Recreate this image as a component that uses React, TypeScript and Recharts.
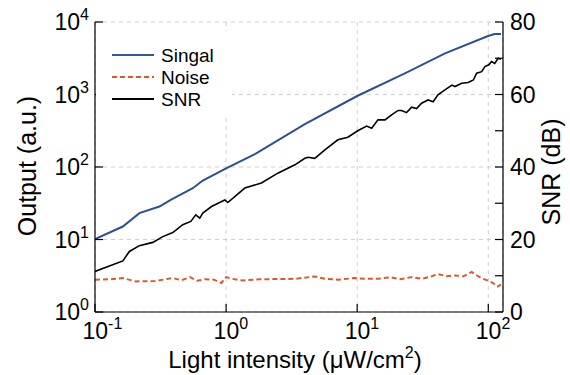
import React from 'react'
import { LineChart, Line, XAxis, YAxis, CartesianGrid } from 'recharts'

const FONT = '"Liberation Sans", Arial, Helvetica, sans-serif'

// light intensity (uW/cm2) and output (a.u.)
const signalX = [0.1, 0.163, 0.218, 0.31, 0.378, 0.557, 0.664, 1.0, 1.66, 3.99, 10, 23.1, 46.8, 99.5, 112, 125]
const signalY = [10.1, 15.1, 23.1, 28.5, 35.2, 51, 65, 96, 151, 389, 953, 1960, 3690, 6400, 6810, 6810]

const noiseX = [0.1, 0.13, 0.163, 0.204, 0.285, 0.392, 0.458, 0.53, 0.6, 0.69, 0.81, 0.92, 1.0, 1.11, 1.34, 1.8, 2.56, 3.35, 4.75, 5.67, 7.12, 9.6, 11.5, 14.4, 17.9, 21.1, 26.1, 31.2, 36, 41.3, 48.4, 55.8, 64.5, 74.7, 82.6, 88.5, 99.5, 108, 117.6, 125]
const noiseY = [2.79, 2.83, 2.94, 2.64, 2.67, 2.94, 2.74, 3.03, 2.7, 2.83, 2.79, 2.51, 3.03, 2.87, 2.72, 2.83, 2.85, 2.87, 3.09, 2.87, 2.79, 2.94, 2.87, 2.87, 3.01, 2.83, 3.03, 2.87, 3.06, 3.34, 3.11, 3.19, 3.11, 3.56, 3.16, 2.94, 2.7, 2.53, 2.25, 2.38]

// SNR (dB), right axis
const snrX = [0.1, 0.163, 0.183, 0.218, 0.276, 0.329, 0.392, 0.467, 0.538, 0.587, 0.63, 0.664, 0.774, 0.977, 1.03, 1.39, 1.86, 2.48, 3.35, 3.99, 4.21, 4.75, 5.67, 7.12, 8.49, 10.1, 11.8, 12.9, 14.4, 16.3, 18.3, 20.5, 21.8, 23.8, 26.0, 28.4, 31.0, 34.7, 38.0, 41.3, 46.7, 52.8, 55.7, 62.7, 70.3, 77, 81.5, 89, 94.3, 101, 106, 112, 119, 125]
const snrY = [11.2, 14.1, 16.7, 18.3, 19.2, 20.8, 21.9, 24.1, 25.0, 26.8, 25.9, 27.3, 29.1, 30.9, 30.2, 34.2, 35.6, 38.3, 40.6, 42.4, 42.7, 42.4, 44.7, 47.5, 48.2, 50.0, 51.3, 50.7, 53.0, 53.0, 54.4, 55.6, 55.6, 55.0, 56.5, 56.1, 57.6, 58.5, 58.0, 59.9, 61.3, 62.6, 62.2, 63.1, 63.3, 64.0, 65.9, 66.3, 67.7, 68.2, 69.1, 68.6, 70.0, 69.7]

const xTicks = [0.1, 1, 10, 100]
const outputTicks = [1, 10, 100, 1000, 10000]
const snrTicks = [0, 10, 20, 30, 40, 50, 60, 70, 80]

const signalData = signalX.map((x, i) => ({ x, y: signalY[i] }))
const noiseData = noiseX.map((x, i) => ({ x, y: noiseY[i] }))
const snrData = snrX.map((x, i) => ({ x, y: snrY[i] }))

const exp = (v: number) => String(Math.round(Math.log10(v)))

function BottomTick({ x, y, payload }: any) {
  return (
    <g>
      <line x1={x} x2={x} y1={y} y2={y - 8} stroke="#000" strokeWidth={1.2} />
      <text x={x - 12.5} y={y + 27} fontSize={23} fontFamily={FONT} fill="#000">
        10<tspan dy={-10} fontSize={16}>{exp(payload.value)}</tspan>
      </text>
    </g>
  )
}

function TopTick({ x, y }: any) {
  return <line x1={x} x2={x} y1={y} y2={y + 8} stroke="#000" strokeWidth={1.2} />
}

function LeftTick({ x, y, payload }: any) {
  return (
    <g>
      <line x1={x} x2={x + 8} y1={y} y2={y} stroke="#000" strokeWidth={1.2} />
      <text x={x - 6} y={y + 8} textAnchor="end" fontSize={23} fontFamily={FONT} fill="#000">
        10<tspan dy={-10} fontSize={16}>{exp(payload.value)}</tspan>
      </text>
    </g>
  )
}

function RightTick({ x, y, payload }: any) {
  return (
    <g>
      <line x1={x} x2={x - 8} y1={y} y2={y} stroke="#000" strokeWidth={1.2} />
      {payload.value % 20 === 0 && (
        <text x={x + 7} y={y + 8} fontSize={23} fontFamily={FONT} fill="#000">
          {payload.value}
        </text>
      )}
    </g>
  )
}

function LegendBox() {
  const rows = [
    { label: 'Singal', color: '#34589a', dash: undefined },
    { label: 'Noise', color: '#d95a2b', dash: '5 3' },
    { label: 'SNR', color: '#000', dash: undefined },
  ]
  return (
    <svg width={136} height={86} style={{ position: 'absolute', left: 96, top: 31, background: '#fff' }}>
      {rows.map((r, i) => (
        <g key={r.label}>
          <line x1={16} x2={58} y1={24 + i * 22} y2={24 + i * 22} stroke={r.color} strokeWidth={2} strokeDasharray={r.dash} />
          <text x={65} y={30.5 + i * 22} fontSize={19} fontFamily={FONT} fill="#000">{r.label}</text>
        </g>
      ))}
    </svg>
  )
}

export default function App() {
  return (
    <div style={{ position: 'absolute', left: 0, top: 0, width: 570, height: 375, background: '#fff' }}>
      <LineChart width={570} height={375} margin={{ top: 22, right: 0, bottom: 0, left: 0 }}>
        <CartesianGrid yAxisId="left" stroke="#cfcfcf" strokeDasharray="4 4" />
        <XAxis
          dataKey="x" type="number" scale="log" domain={[0.1, 129.5]} allowDataOverflow
          ticks={xTicks} interval={0} height={63} tickSize={0} tickMargin={0} tickLine={false}
          axisLine={{ stroke: '#000', strokeWidth: 1.2 }} tick={<BottomTick />}
          label={{
            content: () => (
              <text x={295} y={368} textAnchor="middle" fontSize={24} fontFamily={FONT} fill="#000">
                Light intensity (μW/cm<tspan dy={-10} fontSize={16}>2</tspan><tspan dy={10}>)</tspan>
              </text>
            ),
          }}
        />
        <XAxis
          xAxisId="top" orientation="top" dataKey="x" type="number" scale="log" domain={[0.1, 129.5]} allowDataOverflow
          ticks={xTicks} interval={0} height={0} tickSize={0} tickMargin={0} tickLine={false}
          axisLine={{ stroke: '#000', strokeWidth: 1.2 }} tick={<TopTick />}
        />
        <YAxis
          yAxisId="left" type="number" scale="log" domain={[1, 10000]} allowDataOverflow
          ticks={outputTicks} interval={0} width={95} tickSize={0} tickMargin={0} tickLine={false}
          axisLine={{ stroke: '#000', strokeWidth: 1.2 }} tick={<LeftTick />}
          label={{
            content: () => (
              <text x={36} y={166} textAnchor="middle" fontSize={25} fontFamily={FONT} fill="#000" transform="rotate(-90 36 166)">
                Output (a.u.)
              </text>
            ),
          }}
        />
        <YAxis
          yAxisId="right" orientation="right" type="number" domain={[0, 80]} allowDataOverflow
          ticks={snrTicks} interval={0} width={67} tickSize={0} tickMargin={0} tickLine={false}
          axisLine={{ stroke: '#000', strokeWidth: 1.2 }} tick={<RightTick />}
          label={{
            content: () => (
              <text x={560} y={172} textAnchor="middle" fontSize={25} fontFamily={FONT} fill="#000" transform="rotate(-90 560 172)">
                SNR (dB)
              </text>
            ),
          }}
        />
        <Line data={noiseData} yAxisId="left" dataKey="y" stroke="#d95a2b" strokeWidth={2} strokeDasharray="5 3" dot={false} isAnimationActive={false} />
        <Line data={signalData} yAxisId="left" dataKey="y" stroke="#2e5090" strokeWidth={2} dot={false} isAnimationActive={false} />
        <Line data={snrData} yAxisId="right" dataKey="y" stroke="#000" strokeWidth={1.6} dot={false} isAnimationActive={false} />
      </LineChart>
      <LegendBox />
    </div>
  )
}
